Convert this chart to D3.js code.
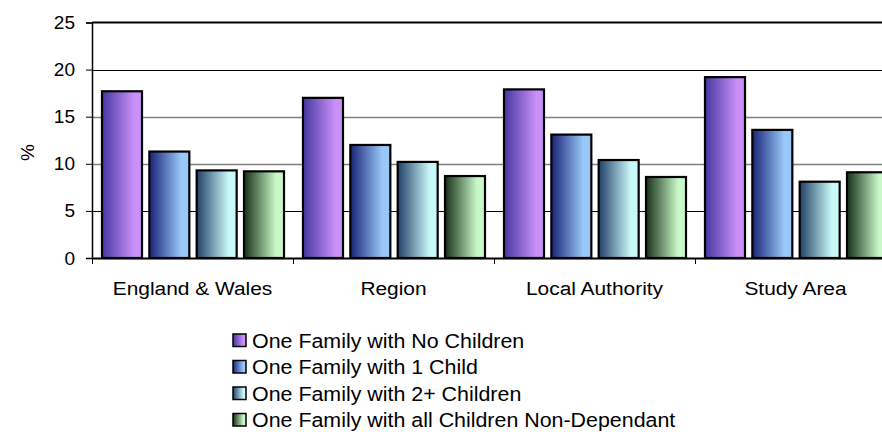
<!DOCTYPE html>
<html>
<head>
<meta charset="utf-8">
<script src="https://cdn.jsdelivr.net/npm/d3@7"></script>
<style>
  body { margin: 0; background: #fff; }
  svg { display: block; font-family: Arial, 'Liberation Sans', sans-serif; }
</style>
</head>
<body>
<div id="chart"></div>
<script>
const categories = ['England & Wales', 'Region', 'Local Authority', 'Study Area']
const seriesNames = [
  'One Family with No Children',
  'One Family with 1 Child',
  'One Family with 2+ Children',
  'One Family with all Children Non-Dependant'
]
const noChildren = [17.7, 17.0, 17.9, 19.2]
const oneChild = [11.3, 12.0, 13.1, 13.6]
const twoPlusChildren = [9.3, 10.2, 10.4, 8.1]
const nonDependant = [9.2, 8.7, 8.6, 9.1]
const yTicks = [0, 5, 10, 15, 20, 25]

const series = [noChildren, oneChild, twoPlusChildren, nonDependant]
const gradients = [
  ['#4636a0', '#c890f8'],
  ['#1a2378', '#98c8f8'],
  ['#223f68', '#c8f8f8'],
  ['#173018', '#c8f8c8']
]

const width = 882, height = 432
const margin = { left: 92, top: 22.5, bottom: 174 }
const plotRight = 92 + 4 * 201
const font = 'Arial, Liberation Sans, sans-serif'

const svg = d3.select('#chart').append('svg')
  .attr('width', width)
  .attr('height', height)

const defs = svg.append('defs')
gradients.forEach((g, i) => {
  const lg = defs.append('linearGradient')
    .attr('id', `grad${i}`)
    .attr('x1', '0%').attr('x2', '100%').attr('y1', '0%').attr('y2', '0%')
  lg.append('stop').attr('offset', '0%').attr('stop-color', g[0])
  lg.append('stop').attr('offset', '80%').attr('stop-color', g[1])
  lg.append('stop').attr('offset', '100%').attr('stop-color', g[1])
})

const x = d3.scaleBand()
  .domain(categories)
  .range([margin.left, plotRight])

const xInner = d3.scaleBand()
  .domain(d3.range(series.length))
  .range([10, 192])
  .paddingInner(0.155)
  .paddingOuter(0)

const y = d3.scaleLinear()
  .domain([0, 25])
  .range([height - margin.bottom, margin.top])

// gridlines
const gridColor = { 5: '#000', 10: '#808080', 15: '#808080', 20: '#000' }
svg.append('g')
  .selectAll('line')
  .data(yTicks.filter(t => t > 0 && t < 25))
  .join('line')
    .attr('x1', margin.left)
    .attr('x2', plotRight)
    .attr('y1', d => Math.round(y(d)) + 0.5)
    .attr('y2', d => Math.round(y(d)) + 0.5)
    .attr('stroke', d => gridColor[d])
    .attr('stroke-width', d => gridColor[d] === '#000' ? 1 : 1.5)

// top border
svg.append('line')
  .attr('x1', margin.left).attr('x2', plotRight)
  .attr('y1', y(25)).attr('y2', y(25))
  .attr('stroke', '#000').attr('stroke-width', 2)

// bars
const groups = svg.append('g')
  .selectAll('g')
  .data(categories)
  .join('g')
    .attr('transform', d => `translate(${x(d)},0)`)

groups.selectAll('rect')
  .data((d, ci) => series.map((s, si) => ({ si, v: s[ci] })))
  .join('rect')
    .attr('x', d => xInner(d.si))
    .attr('width', xInner.bandwidth())
    .attr('y', d => y(d.v))
    .attr('height', d => y(0) - y(d.v))
    .attr('fill', d => `url(#grad${d.si})`)
    .attr('stroke', '#000')
    .attr('stroke-width', 2.2)

// y axis
const yAxis = svg.append('g')
  .attr('transform', `translate(${margin.left},0)`)
  .call(d3.axisLeft(y).tickValues(yTicks).tickSize(6).tickPadding(11))
yAxis.select('.domain').attr('stroke', '#000').attr('stroke-width', 1.5)
yAxis.selectAll('.tick line').attr('stroke', '#000')
yAxis.selectAll('text')
  .attr('font-size', 19)
  .attr('fill', '#000')
  .attr('font-family', font)

// x axis
const xAxis = svg.append('g')
  .attr('transform', `translate(0,${y(0)})`)
  .call(d3.axisBottom(x).tickSize(0).tickPadding(24))
xAxis.select('.domain').attr('stroke', '#000').attr('stroke-width', 2)
xAxis.selectAll('.tick text')
  .attr('font-size', 19)
  .attr('fill', '#000')
  .attr('font-family', font)
  .attr('transform', 'scale(1.1,1)')
  .attr('x', 0)

svg.append('g')
  .selectAll('line')
  .data(categories)
  .join('line')
    .attr('x1', d => x(d) + 0.5)
    .attr('x2', d => x(d) + 0.5)
    .attr('y1', y(0))
    .attr('y2', y(0) + 6)
    .attr('stroke', '#000')

svg.append('text')
  .attr('transform', `translate(34,${y(11.2)}) rotate(-90)`)
  .attr('text-anchor', 'middle')
  .attr('font-size', 19)
  .text('%')

// legend
const legend = svg.append('g')
  .attr('transform', 'translate(233,334)')
const items = legend.selectAll('g')
  .data(seriesNames)
  .join('g')
    .attr('transform', (d, i) => `translate(0,${i * 26.5})`)
items.append('rect')
  .attr('width', 13).attr('height', 12.5)
  .attr('fill', (d, i) => `url(#grad${i})`)
  .attr('stroke', '#000').attr('stroke-width', 1.5)
items.append('text')
  .attr('transform', 'translate(19,6.5) scale(1.07,1)')
  .attr('dy', '0.36em')
  .attr('font-size', 20)
  .text(d => d)
</script>
</body>
</html>
